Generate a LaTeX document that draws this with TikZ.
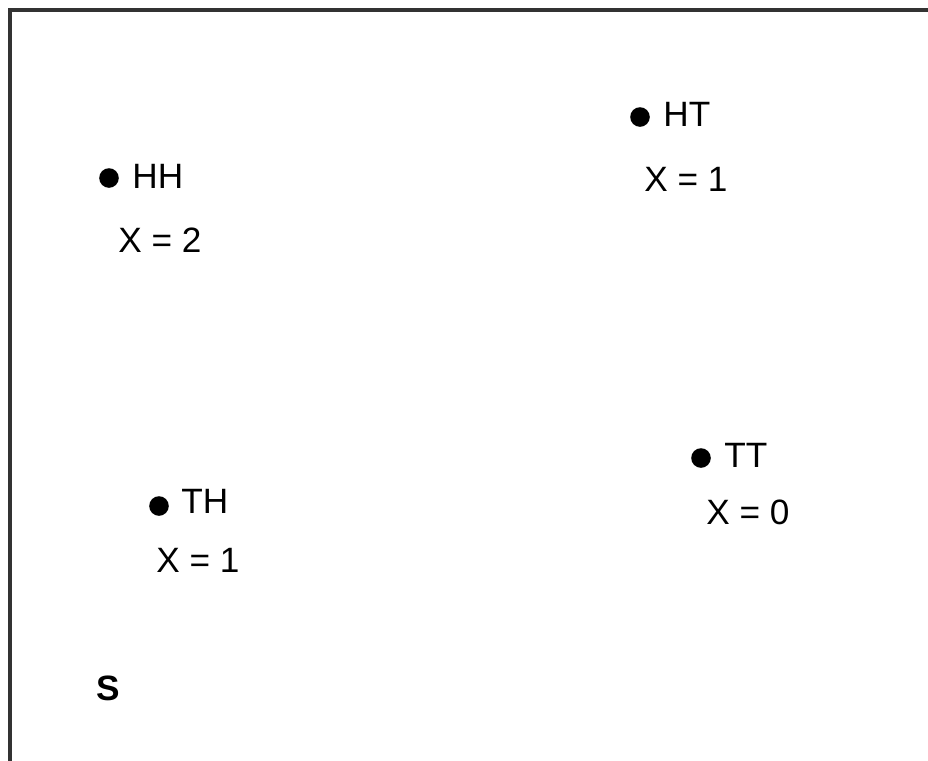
\documentclass[tikz,border=0pt]{standalone}
\usepackage{fontspec}
\setmainfont{Liberation Sans}
\usetikzlibrary{positioning}
\definecolor{frameGray}{HTML}{333333}

\begin{document}
\begin{tikzpicture}[x=0.5pt,y=-0.5pt,font=\fontsize{17.6}{20}\selectfont,
  pt/.style={circle,fill=black,inner sep=0pt,minimum size=9.8pt},
  lbl/.style={anchor=base west,inner sep=0pt}]
  \useasboundingbox (0,0) rectangle (928,761);
  % outline of the sample space (cut off right and below)
  \draw[frameGray,line width=1.6pt] (10,761) -- (10,10) -- (928,10);
  % outcomes
  \node[pt] (hh) at (109,178) {};
  \node[lbl] (hhName) at (132,188) {HH};
  \node[lbl] (hhVal) at (118,252) {X = 2};
  \node[pt] (ht) at (640,117) {};
  \node[lbl] (htName) at (663,126) {HT};
  \node[lbl] (htVal) at (644,191) {X = 1};
  \node[pt] (tt) at (701,458) {};
  \node[lbl] (ttName) at (724,467) {TT};
  \node[lbl] (ttVal) at (706,524) {X = 0};
  \node[pt] (th) at (159,506) {};
  \node[lbl] (thName) at (181,513) {TH};
  \node[lbl] (thVal) at (156,572) {X = 1};
  \node[lbl,font=\fontsize{17.6}{20}\selectfont\bfseries] (space) at (96,700) {S};
\end{tikzpicture}
\end{document}
